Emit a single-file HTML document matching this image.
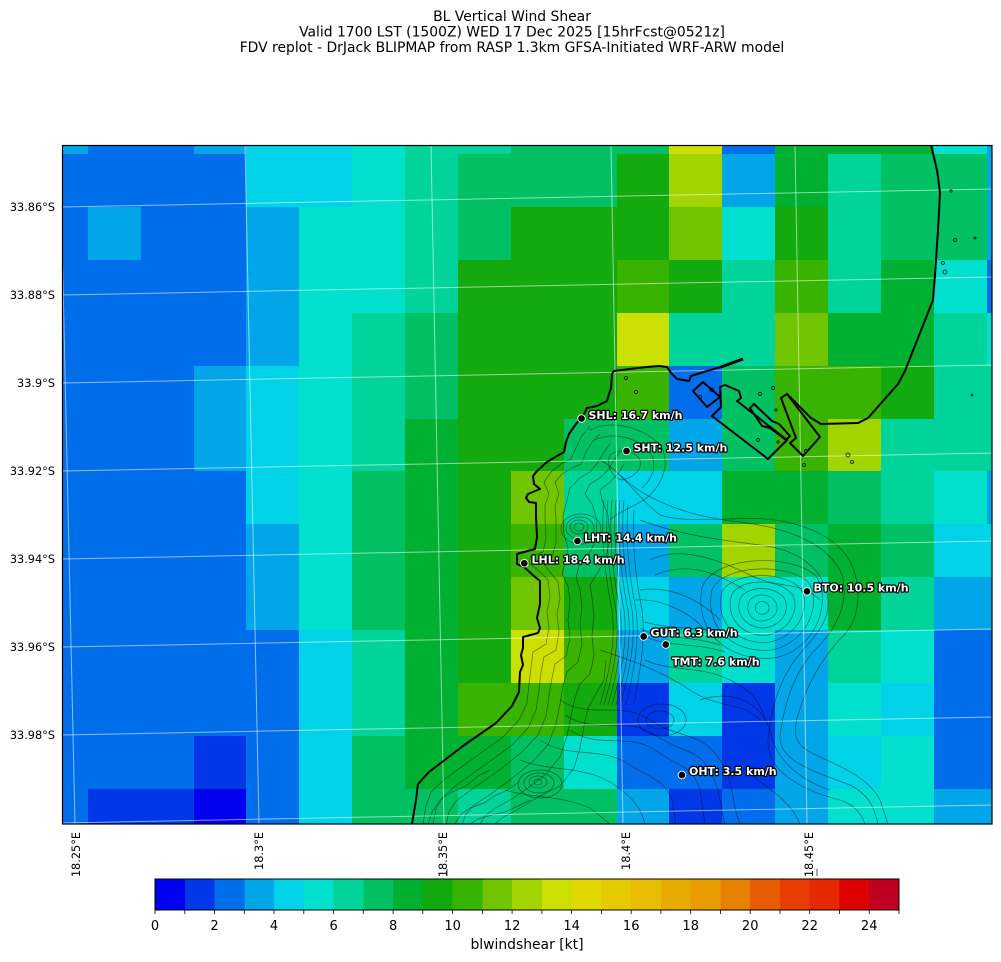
<!DOCTYPE html>
<html><head><meta charset="utf-8">
<style>
html,body{margin:0;padding:0;background:#fff;}
svg{display:block;font-family:"DejaVu Sans","Liberation Sans",sans-serif;}
.c0{fill:#0000ee}.c1{fill:#0038e8}.c2{fill:#006eea}.c3{fill:#00a6e8}.c4{fill:#00d2e8}
.c5{fill:#00e0cc}.c6{fill:#00d49a}.c7{fill:#00c064}.c8{fill:#00b030}.c9{fill:#12aa0e}
.c10{fill:#38b400}.c11{fill:#70c400}.c12{fill:#a2d400}.c13{fill:#cce000}.c14{fill:#e0d800}
.c15{fill:#e6ca00}.c16{fill:#e8bc00}.c17{fill:#e8ac00}.c18{fill:#e89c00}.c19{fill:#e88000}
.c20{fill:#e85c00}.c21{fill:#e83c00}.c22{fill:#e42800}.c23{fill:#dc0000}.c24{fill:#c00020}
.ct{fill:none;stroke:#000;stroke-opacity:.5;stroke-width:.7}
.lbl{font-weight:bold;font-size:11px;fill:#fff;stroke:#000;stroke-width:2.4;paint-order:stroke;stroke-linejoin:round}
</style></head>
<body>
<svg width="1001" height="962" viewBox="0 0 1001 962" xmlns="http://www.w3.org/2000/svg">
<rect width="1001" height="962" fill="#fff"/>
<g font-size="13.9" text-anchor="middle" fill="#000">
<text x="512" y="21">BL Vertical Wind Shear</text>
<text x="512" y="36.5">Valid 1700 LST (1500Z) WED 17 Dec 2025 [15hrFcst@0521z]</text>
<text x="512" y="52">FDV replot - DrJack BLIPMAP from RASP 1.3km GFSA-Initiated WRF-ARW model</text>
</g>
<defs><clipPath id="mc"><rect x="62" y="145" width="930" height="679"/></clipPath></defs>
<g clip-path="url(#mc)" shape-rendering="crispEdges">
<rect class="c3" x="62" y="145" width="26" height="9"/><rect class="c2" x="88" y="145" width="106" height="9"/><rect class="c3" x="194" y="145" width="52" height="9"/><rect class="c4" x="246" y="145" width="106" height="9"/><rect class="c5" x="352" y="145" width="53" height="9"/><rect class="c6" x="405" y="145" width="106" height="9"/><rect class="c7" x="511" y="145" width="158" height="9"/><rect class="c13" x="669" y="145" width="53" height="9"/><rect class="c2" x="722" y="145" width="53" height="9"/><rect class="c8" x="775" y="145" width="159" height="9"/><rect class="c5" x="934" y="145" width="53" height="9"/><rect class="c3" x="987" y="145" width="5" height="9"/>
<rect class="c2" x="62" y="154" width="184" height="53"/><rect class="c4" x="246" y="154" width="106" height="53"/><rect class="c5" x="352" y="154" width="53" height="53"/><rect class="c6" x="405" y="154" width="53" height="53"/><rect class="c7" x="458" y="154" width="159" height="53"/><rect class="c9" x="617" y="154" width="52" height="53"/><rect class="c12" x="669" y="154" width="53" height="53"/><rect class="c3" x="722" y="154" width="53" height="53"/><rect class="c8" x="775" y="154" width="53" height="53"/><rect class="c6" x="828" y="154" width="53" height="53"/><rect class="c7" x="881" y="154" width="106" height="53"/><rect class="c3" x="987" y="154" width="5" height="53"/>
<rect class="c2" x="62" y="207" width="26" height="53"/><rect class="c3" x="88" y="207" width="53" height="53"/><rect class="c2" x="141" y="207" width="105" height="53"/><rect class="c3" x="246" y="207" width="53" height="53"/><rect class="c5" x="299" y="207" width="106" height="53"/><rect class="c6" x="405" y="207" width="53" height="53"/><rect class="c7" x="458" y="207" width="53" height="53"/><rect class="c9" x="511" y="207" width="158" height="53"/><rect class="c11" x="669" y="207" width="53" height="53"/><rect class="c5" x="722" y="207" width="53" height="53"/><rect class="c9" x="775" y="207" width="53" height="53"/><rect class="c6" x="828" y="207" width="53" height="53"/><rect class="c7" x="881" y="207" width="106" height="53"/><rect class="c3" x="987" y="207" width="5" height="53"/>
<rect class="c2" x="62" y="260" width="184" height="53"/><rect class="c3" x="246" y="260" width="53" height="53"/><rect class="c5" x="299" y="260" width="106" height="53"/><rect class="c6" x="405" y="260" width="53" height="53"/><rect class="c9" x="458" y="260" width="53" height="53"/><rect class="c9" x="511" y="260" width="106" height="53"/><rect class="c10" x="617" y="260" width="52" height="53"/><rect class="c9" x="669" y="260" width="53" height="53"/><rect class="c6" x="722" y="260" width="53" height="53"/><rect class="c10" x="775" y="260" width="53" height="53"/><rect class="c6" x="828" y="260" width="53" height="53"/><rect class="c8" x="881" y="260" width="53" height="53"/><rect class="c5" x="934" y="260" width="53" height="53"/><rect class="c2" x="987" y="260" width="5" height="53"/>
<rect class="c2" x="62" y="313" width="184" height="53"/><rect class="c3" x="246" y="313" width="53" height="53"/><rect class="c5" x="299" y="313" width="53" height="53"/><rect class="c6" x="352" y="313" width="53" height="53"/><rect class="c7" x="405" y="313" width="53" height="53"/><rect class="c9" x="458" y="313" width="53" height="53"/><rect class="c9" x="511" y="313" width="106" height="53"/><rect class="c13" x="617" y="313" width="52" height="53"/><rect class="c6" x="669" y="313" width="106" height="53"/><rect class="c11" x="775" y="313" width="53" height="53"/><rect class="c8" x="828" y="313" width="106" height="53"/><rect class="c6" x="934" y="313" width="53" height="53"/><rect class="c5" x="987" y="313" width="5" height="53"/>
<rect class="c2" x="62" y="366" width="132" height="53"/><rect class="c3" x="194" y="366" width="52" height="53"/><rect class="c4" x="246" y="366" width="53" height="53"/><rect class="c5" x="299" y="366" width="53" height="53"/><rect class="c6" x="352" y="366" width="53" height="53"/><rect class="c7" x="405" y="366" width="53" height="53"/><rect class="c9" x="458" y="366" width="53" height="53"/><rect class="c9" x="511" y="366" width="106" height="53"/><rect class="c10" x="617" y="366" width="52" height="53"/><rect class="c2" x="669" y="366" width="53" height="53"/><rect class="c7" x="722" y="366" width="53" height="53"/><rect class="c10" x="775" y="366" width="106" height="53"/><rect class="c9" x="881" y="366" width="53" height="53"/><rect class="c6" x="934" y="366" width="58" height="53"/>
<rect class="c2" x="62" y="419" width="132" height="52"/><rect class="c3" x="194" y="419" width="52" height="52"/><rect class="c4" x="246" y="419" width="53" height="52"/><rect class="c5" x="299" y="419" width="53" height="52"/><rect class="c6" x="352" y="419" width="53" height="52"/><rect class="c8" x="405" y="419" width="53" height="52"/><rect class="c9" x="458" y="419" width="106" height="52"/><rect class="c7" x="564" y="419" width="105" height="52"/><rect class="c3" x="669" y="419" width="53" height="52"/><rect class="c7" x="722" y="419" width="53" height="52"/><rect class="c10" x="775" y="419" width="53" height="52"/><rect class="c12" x="828" y="419" width="53" height="52"/><rect class="c6" x="881" y="419" width="111" height="52"/>
<rect class="c2" x="62" y="471" width="184" height="53"/><rect class="c4" x="246" y="471" width="53" height="53"/><rect class="c5" x="299" y="471" width="53" height="53"/><rect class="c7" x="352" y="471" width="53" height="53"/><rect class="c8" x="405" y="471" width="53" height="53"/><rect class="c9" x="458" y="471" width="53" height="53"/><rect class="c11" x="511" y="471" width="53" height="53"/><rect class="c6" x="564" y="471" width="53" height="53"/><rect class="c4" x="617" y="471" width="105" height="53"/><rect class="c8" x="722" y="471" width="106" height="53"/><rect class="c7" x="828" y="471" width="53" height="53"/><rect class="c6" x="881" y="471" width="53" height="53"/><rect class="c5" x="934" y="471" width="53" height="53"/><rect class="c3" x="987" y="471" width="5" height="53"/>
<rect class="c2" x="62" y="524" width="184" height="53"/><rect class="c3" x="246" y="524" width="53" height="53"/><rect class="c5" x="299" y="524" width="53" height="53"/><rect class="c7" x="352" y="524" width="53" height="53"/><rect class="c8" x="405" y="524" width="53" height="53"/><rect class="c9" x="458" y="524" width="53" height="53"/><rect class="c10" x="511" y="524" width="53" height="53"/><rect class="c7" x="564" y="524" width="53" height="53"/><rect class="c3" x="617" y="524" width="52" height="53"/><rect class="c7" x="669" y="524" width="53" height="53"/><rect class="c12" x="722" y="524" width="53" height="53"/><rect class="c7" x="775" y="524" width="53" height="53"/><rect class="c8" x="828" y="524" width="53" height="53"/><rect class="c7" x="881" y="524" width="53" height="53"/><rect class="c4" x="934" y="524" width="58" height="53"/>
<rect class="c2" x="62" y="577" width="184" height="53"/><rect class="c3" x="246" y="577" width="53" height="53"/><rect class="c5" x="299" y="577" width="53" height="53"/><rect class="c7" x="352" y="577" width="53" height="53"/><rect class="c8" x="405" y="577" width="53" height="53"/><rect class="c9" x="458" y="577" width="53" height="53"/><rect class="c11" x="511" y="577" width="53" height="53"/><rect class="c9" x="564" y="577" width="53" height="53"/><rect class="c4" x="617" y="577" width="52" height="53"/><rect class="c3" x="669" y="577" width="53" height="53"/><rect class="c5" x="722" y="577" width="106" height="53"/><rect class="c8" x="828" y="577" width="53" height="53"/><rect class="c6" x="881" y="577" width="53" height="53"/><rect class="c3" x="934" y="577" width="58" height="53"/>
<rect class="c2" x="62" y="630" width="237" height="53"/><rect class="c4" x="299" y="630" width="53" height="53"/><rect class="c6" x="352" y="630" width="53" height="53"/><rect class="c8" x="405" y="630" width="53" height="53"/><rect class="c9" x="458" y="630" width="53" height="53"/><rect class="c13" x="511" y="630" width="53" height="53"/><rect class="c10" x="564" y="630" width="53" height="53"/><rect class="c3" x="617" y="630" width="52" height="53"/><rect class="c6" x="669" y="630" width="53" height="53"/><rect class="c5" x="722" y="630" width="53" height="53"/><rect class="c3" x="775" y="630" width="53" height="53"/><rect class="c6" x="828" y="630" width="53" height="53"/><rect class="c5" x="881" y="630" width="53" height="53"/><rect class="c2" x="934" y="630" width="58" height="53"/>
<rect class="c2" x="62" y="683" width="237" height="53"/><rect class="c4" x="299" y="683" width="53" height="53"/><rect class="c6" x="352" y="683" width="53" height="53"/><rect class="c8" x="405" y="683" width="53" height="53"/><rect class="c10" x="458" y="683" width="106" height="53"/><rect class="c9" x="564" y="683" width="53" height="53"/><rect class="c1" x="617" y="683" width="52" height="53"/><rect class="c4" x="669" y="683" width="53" height="53"/><rect class="c1" x="722" y="683" width="53" height="53"/><rect class="c3" x="775" y="683" width="53" height="53"/><rect class="c5" x="828" y="683" width="53" height="53"/><rect class="c4" x="881" y="683" width="53" height="53"/><rect class="c2" x="934" y="683" width="58" height="53"/>
<rect class="c2" x="62" y="736" width="132" height="53"/><rect class="c1" x="194" y="736" width="52" height="53"/><rect class="c2" x="246" y="736" width="53" height="53"/><rect class="c4" x="299" y="736" width="53" height="53"/><rect class="c7" x="352" y="736" width="53" height="53"/><rect class="c8" x="405" y="736" width="106" height="53"/><rect class="c7" x="511" y="736" width="53" height="53"/><rect class="c5" x="564" y="736" width="53" height="53"/><rect class="c2" x="617" y="736" width="105" height="53"/><rect class="c1" x="722" y="736" width="53" height="53"/><rect class="c3" x="775" y="736" width="53" height="53"/><rect class="c4" x="828" y="736" width="53" height="53"/><rect class="c5" x="881" y="736" width="53" height="53"/><rect class="c2" x="934" y="736" width="58" height="53"/>
<rect class="c2" x="62" y="789" width="26" height="35"/><rect class="c1" x="88" y="789" width="106" height="35"/><rect class="c0" x="194" y="789" width="52" height="35"/><rect class="c2" x="246" y="789" width="53" height="35"/><rect class="c4" x="299" y="789" width="53" height="35"/><rect class="c7" x="352" y="789" width="106" height="35"/><rect class="c6" x="458" y="789" width="53" height="35"/><rect class="c7" x="511" y="789" width="106" height="35"/><rect class="c3" x="617" y="789" width="52" height="35"/><rect class="c1" x="669" y="789" width="53" height="35"/><rect class="c2" x="722" y="789" width="53" height="35"/><rect class="c3" x="775" y="789" width="53" height="35"/><rect class="c5" x="828" y="789" width="106" height="35"/><rect class="c3" x="934" y="789" width="58" height="35"/>
</g>
<g clip-path="url(#mc)">
<g class="ct">
<path d="M423,824 L426,806 L431,792 L446,778 L474,758 L503,737 L519,720 L527,703 L529,684 L531,668 L533,652 L546,644 L549,628 L547,612 L550,596 L548,580 L539,571 L529,563 L531,556 L543,552 L546,538 L545,518 L545,505 L549,494 L544,482 L551,472 L561,464 L571,459 L576,448 L581,437 L590,426"/>
<path d="M433,824 L436,809 L443,797 L458,784 L486,764 L512,745 L528,728 L536,710 L539,690 L541,672 L544,657 L556,650 L559,632 L557,614 L560,598 L558,582 L550,572 L542,562 L552,557 L556,543 L556,520 L555,506 L559,494 L555,482 L562,474 L572,468 L581,464 L586,452 L592,442 L600,434"/>
<path d="M446,824 L449,812 L456,801 L471,790 L498,771 L522,752 L538,735 L546,716 L549,696 L552,678 L555,664 L566,656 L570,638 L568,620 L570,602 L568,586 L562,574 L565,562 L568,548 L564,535 L563,515 L567,500 L570,488 L580,478 L590,472 L598,462 L604,452 L610,444"/>
<path d="M462,824 L466,814 L474,805 L488,796 L510,780 L532,762 L548,745 L556,724 L560,704 L563,686 L567,672 L578,662 L582,644 L580,624 L582,606 L580,590 L576,578 L579,566 L588,556 L596,540 L597,520 L592,504 L585,494 L590,484 L600,478 L608,470 L614,460 L620,452"/>
<path d="M480,824 L485,816 L494,809 L510,800 L528,788 L546,774 L560,757 L567,736 L571,716 L575,698 L580,684 L590,674 L594,656 L592,636 L594,616 L592,598 L590,585 L598,572 L606,558 L610,538 L608,515 L602,500 L600,490 L610,482 L618,474 L624,464"/>
<path d="M495,824 L502,818 L520,808 L540,796 L560,786 L574,768 L580,748 L584,726 L588,708 L596,694 L604,680 L606,660"/>
<path d="M428,824 L432,812 L440,800 L452,792 L466,786 L478,776 L490,770"/>
<path d="M455,824 L460,815 L470,808 L484,803 L496,795 L508,790 L520,781"/>
<path d="M470,824 L478,819 L492,815 L505,812 L518,806 L530,800"/>
<path d="M604,500 C600,540 606,580 612,610 C616,640 610,670 600,705"/>
<path d="M608,500 C604,540 610,580 616,610 C620,640 614,670 604,705"/>
<path d="M612,500 C608,540 614,580 620,610 C624,640 618,670 608,705"/>
<path d="M616,500 C612,540 618,580 624,610 C628,640 622,670 612,705"/>
<path d="M620,500 C616,540 622,580 628,610 C632,640 626,670 616,705"/>
<path d="M624,500 C620,540 626,580 632,610 C636,640 630,670 620,705"/>
<path d="M628,505 C625,540 630,580 636,610 C640,640 634,670 626,705"/>
<path d="M634,510 C632,545 636,580 642,610 C646,640 640,670 634,705"/>
<path d="M590,430 C610,420 640,425 660,445 C670,460 665,480 650,495 C640,505 620,510 610,520"/>
<path d="M595,440 C612,432 635,436 650,452 C658,465 653,478 642,488"/>
<path d="M610,455 C620,448 635,450 640,460 C643,470 632,478 622,480 C612,478 606,465 610,455 Z"/>
<path d="M600,460 C620,470 640,500 660,515 C690,525 740,515 775,520 C810,525 840,540 852,565 C862,590 860,620 842,637 C825,655 808,680 798,715 C790,740 800,748 820,757 C845,768 870,780 880,800 L888,824"/>
<path d="M620,475 C650,505 700,518 740,522 C790,528 830,545 842,575 C850,605 835,630 815,650 C795,672 785,700 780,735 C778,760 810,770 850,785 C870,795 875,810 878,824"/>
<path d="M640,520 C680,535 720,540 760,545 C800,550 825,570 828,600 C830,625 810,640 795,660 C780,680 770,710 768,740 C766,770 800,790 840,800 C855,805 862,815 865,824"/>
<path d="M650,560 C680,545 720,560 750,575 C780,590 800,580 820,600"/>
<path d="M655,575 C690,560 720,575 745,590"/>
<path d="M640,590 C670,585 700,600 720,620"/>
<path d="M635,600 C660,598 690,612 705,630"/>
<path d="M640,628 C660,640 690,635 720,645"/>
<path d="M640,634 C665,648 695,642 725,652"/>
<path d="M645,622 C670,630 700,625 730,636"/>
<path d="M645,660 C670,672 700,665 730,680 C750,690 760,700 765,720"/>
<path d="M600,650 C630,660 660,670 690,690 C720,710 740,700 760,720"/>
<path d="M560,700 C590,720 620,700 650,720 C680,740 700,730 720,760 C735,780 730,800 740,824"/>
<path d="M565,715 C595,735 625,715 655,735 C685,755 700,748 712,775 C722,795 720,810 725,824"/>
<path d="M570,730 C600,750 628,732 655,750 C680,768 693,765 700,790 L705,824"/>
<path d="M540,740 C570,760 600,745 630,765 C650,778 665,780 672,800 L676,824"/>
<path d="M520,760 C550,772 580,765 610,782 C630,795 640,805 645,824"/>
<path d="M505,790 C530,798 560,795 590,808 L610,824"/>
<path d="M700,700 C730,690 760,700 770,730 C775,760 800,780 830,790"/>
<path d="M745,770 C770,790 790,800 800,824"/>
<path d="M757,604 C760,600 768,601 769,607 C770,613 763,616 758,613 C754,610 755,606 757,604 Z"/>
<path d="M750,600 C757,592 772,594 776,603 C780,613 772,621 760,621 C749,620 745,608 750,600 Z"/>
<path d="M741,597 C750,585 775,586 784,598 C791,610 782,626 764,628 C744,628 734,611 741,597 Z"/>
<path d="M732,594 C742,578 778,578 792,594 C800,606 792,630 768,635 C742,638 724,616 732,594 Z"/>
<path d="M722,592 C732,572 782,570 800,588 C812,604 800,636 770,642 C738,646 714,622 722,592 Z"/>
<path d="M712,590 C722,565 786,562 808,582 C822,600 810,642 772,650 C732,654 704,626 712,590 Z"/>
<path d="M702,588 C712,556 790,552 816,576 C832,598 818,650 774,658 C726,662 694,630 702,588 Z"/>
<ellipse cx="579" cy="527" rx="5" ry="4"/><ellipse cx="579" cy="527" rx="9" ry="7"/><ellipse cx="580" cy="528" rx="14" ry="11"/><ellipse cx="581" cy="529" rx="20" ry="15"/>
<ellipse cx="538" cy="782" rx="4" ry="3"/><ellipse cx="538" cy="782" rx="9" ry="6"/><ellipse cx="539" cy="783" rx="15" ry="10"/><ellipse cx="540" cy="784" rx="22" ry="14"/>
<ellipse cx="660" cy="720" rx="14" ry="9"/><ellipse cx="662" cy="720" rx="24" ry="16"/>
</g>
<g stroke="#fff" stroke-opacity=".55" stroke-width="1" fill="none">
<line x1="62" y1="207" x2="992" y2="189"/>
<line x1="62" y1="295" x2="992" y2="277"/>
<line x1="62" y1="383" x2="992" y2="365"/>
<line x1="62" y1="471" x2="992" y2="453"/>
<line x1="62" y1="559" x2="992" y2="541"/>
<line x1="62" y1="647" x2="992" y2="629"/>
<line x1="62" y1="735" x2="992" y2="717"/>
<line x1="62" y1="823" x2="992" y2="805"/>
<line x1="75" y1="824" x2="60" y2="145"/>
<line x1="259" y1="824" x2="245" y2="145"/>
<line x1="444" y1="824" x2="431" y2="145"/>
<line x1="623" y1="824" x2="611" y2="145"/>
<line x1="807" y1="824" x2="795" y2="145"/>
</g>
<g fill="none" stroke="#000" stroke-width="2" stroke-linejoin="round">
<path d="M412,824 L416,800 L418,784 L429,772 L463,746 L496,723 L512,706 L519,692 L520,672 L523,665 L521,655 L523,648 L523,637 L538,633 L540,628 L537,618 L540,604 L540,581 L534,576 L524,567 L517,564 L517,554 L524,552 L535,549 L537,537 L536,516 L536,503 L529,502 L526,498 L528,494 L540,489 L534,484 L533,476 L537,471 L547,462 L557,456 L564,452 L566,442 L569,434 L576,424 L584,414 L587,408 L597,406 L607,401 L609,394 L611,388 L612,374 L614,371 L630,369 L647,367 L659,366 L667,367 L672,374 L677,379 L689,381 L691,376 L707,371 L721,367"/>
<path d="M721,367 L743,359" stroke-width="3"/>
<path d="M693,391 L703,382 L720,397 L707,407 Z"/>
<path d="M712,416 L721,407 L720,387 L725,385 L739,391 L741,398 L737,401 L787,440 L768,459 Z"/>
<path d="M750,408 L754,404 L772,421 L779,424 L790,436 L786,440 L770,428 L762,426 Z"/>
<path d="M781,398 L787,394 L820,437 L803,456 L790,443 L796,438 Z"/>
<path d="M931,145 L937,170 L940,193 L938,230 L935,275 L933,300 L905,371 L898,384 L868,418 L858,423 L821,424 L811,418 L800,407 L787,394"/>
</g>
<g fill="none" stroke="#000" stroke-width=".7">
<circle cx="760" cy="394" r="1.5"/><circle cx="773" cy="388" r="1.5"/><circle cx="776" cy="410" r="1.2"/><circle cx="758" cy="440" r="1.5"/><circle cx="806" cy="451" r="1.5"/><circle cx="804" cy="465" r="1.5"/><circle cx="848" cy="455" r="2"/><circle cx="852" cy="462" r="1.5"/><circle cx="951" cy="191" r="1.2"/><circle cx="955" cy="240" r="1.5"/><circle cx="945" cy="272" r="2"/><circle cx="943" cy="263" r="1.5"/><circle cx="626" cy="378" r="1.5"/><circle cx="636" cy="392" r="1.5"/><circle cx="712" cy="390" r="2"/><circle cx="700" cy="397" r="1.5"/><circle cx="778" cy="442" r="1.2"/><circle cx="972" cy="395" r="1"/><circle cx="975" cy="238" r="1"/>
</g>
</g>
<rect x="62.5" y="145.5" width="929.5" height="678.5" fill="none" stroke="#000" stroke-width="1.2"/>
<g fill="#000" stroke="#fff" stroke-width="0.9">
<circle cx="581.5" cy="418.5" r="3.8"/><circle cx="626.5" cy="451" r="3.8"/><circle cx="577.5" cy="541" r="3.8"/><circle cx="524.3" cy="563.3" r="3.8"/><circle cx="807" cy="591.4" r="3.8"/><circle cx="643.7" cy="636.5" r="3.8"/><circle cx="665.8" cy="644.5" r="3.8"/><circle cx="681.9" cy="775" r="3.8"/>
</g>
<g class="lbl">
<text x="588.5" y="419">SHL: 16.7 km/h</text>
<text x="633.5" y="451.5">SHT: 12.5 km/h</text>
<text x="584" y="541.5">LHT: 14.4 km/h</text>
<text x="531.5" y="563.5">LHL: 18.4 km/h</text>
<text x="813.5" y="591.5">BTO: 10.5 km/h</text>
<text x="650.5" y="636.5">GUT: 6.3 km/h</text>
<text x="672" y="665.5">TMT: 7.6 km/h</text>
<text x="689" y="775">OHT: 3.5 km/h</text>
</g>
<g font-size="11.3" text-anchor="end" fill="#000">
<text x="55" y="211">33.86°S</text>
<text x="55" y="299">33.88°S</text>
<text x="55" y="387">33.9°S</text>
<text x="55" y="475">33.92°S</text>
<text x="55" y="563">33.94°S</text>
<text x="55" y="651">33.96°S</text>
<text x="55" y="739">33.98°S</text>
</g>
<g font-size="11.3" text-anchor="end" fill="#000">
<text transform="translate(80,832) rotate(-90)">18.25°E</text>
<text transform="translate(263,832) rotate(-90)">18.3°E</text>
<text transform="translate(447,832) rotate(-90)">18.35°E</text>
<text transform="translate(630,832) rotate(-90)">18.4°E</text>
<text transform="translate(813,832) rotate(-90)">18.45°E</text>
</g>
<g shape-rendering="crispEdges">
<rect class="c0" x="155" y="879" width="30.3" height="31"/><rect class="c1" x="184.8" y="879" width="30.3" height="31"/><rect class="c2" x="214.5" y="879" width="30.3" height="31"/><rect class="c3" x="244.3" y="879" width="30.3" height="31"/><rect class="c4" x="274" y="879" width="30.3" height="31"/><rect class="c5" x="303.8" y="879" width="30.3" height="31"/><rect class="c6" x="333.6" y="879" width="30.3" height="31"/><rect class="c7" x="363.3" y="879" width="30.3" height="31"/><rect class="c8" x="393.1" y="879" width="30.3" height="31"/><rect class="c9" x="422.8" y="879" width="30.3" height="31"/><rect class="c10" x="452.6" y="879" width="30.3" height="31"/><rect class="c11" x="482.4" y="879" width="30.3" height="31"/><rect class="c12" x="512.1" y="879" width="30.3" height="31"/><rect class="c13" x="541.9" y="879" width="30.3" height="31"/><rect class="c14" x="571.6" y="879" width="30.3" height="31"/><rect class="c15" x="601.4" y="879" width="30.3" height="31"/><rect class="c16" x="631.2" y="879" width="30.3" height="31"/><rect class="c17" x="660.9" y="879" width="30.3" height="31"/><rect class="c18" x="690.7" y="879" width="30.3" height="31"/><rect class="c19" x="720.4" y="879" width="30.3" height="31"/><rect class="c20" x="750.2" y="879" width="30.3" height="31"/><rect class="c21" x="780" y="879" width="30.3" height="31"/><rect class="c22" x="809.7" y="879" width="30.3" height="31"/><rect class="c23" x="839.5" y="879" width="30.3" height="31"/><rect class="c24" x="869.2" y="879" width="29.8" height="31"/>
</g>
<rect x="155" y="879" width="744" height="31" fill="none" stroke="#000" stroke-width="1"/>
<g stroke="#000" stroke-width="0.8">
<path d="M155,910v4M184.8,910v4M214.5,910v4M244.3,910v4M274,910v4M303.8,910v4M333.6,910v4M363.3,910v4M393.1,910v4M422.8,910v4M452.6,910v4M482.4,910v4M512.1,910v4M541.9,910v4M571.6,910v4M601.4,910v4M631.2,910v4M660.9,910v4M690.7,910v4M720.4,910v4M750.2,910v4M780,910v4M809.7,910v4M839.5,910v4M869.2,910v4M899,910v4"/>
<path d="M447,869v7M817,869v7" stroke-width="0.7"/>
</g>
<g font-size="13" text-anchor="middle" fill="#000">
<text x="155" y="930">0</text><text x="214.5" y="930">2</text><text x="274" y="930">4</text><text x="333.6" y="930">6</text><text x="393.1" y="930">8</text><text x="452.6" y="930">10</text><text x="512.1" y="930">12</text><text x="571.6" y="930">14</text><text x="631.2" y="930">16</text><text x="690.7" y="930">18</text><text x="750.2" y="930">20</text><text x="809.7" y="930">22</text><text x="869.2" y="930">24</text>
</g>
<text x="527" y="949" font-size="13.9" text-anchor="middle" fill="#000">blwindshear [kt]</text>
</svg>
</body></html>
